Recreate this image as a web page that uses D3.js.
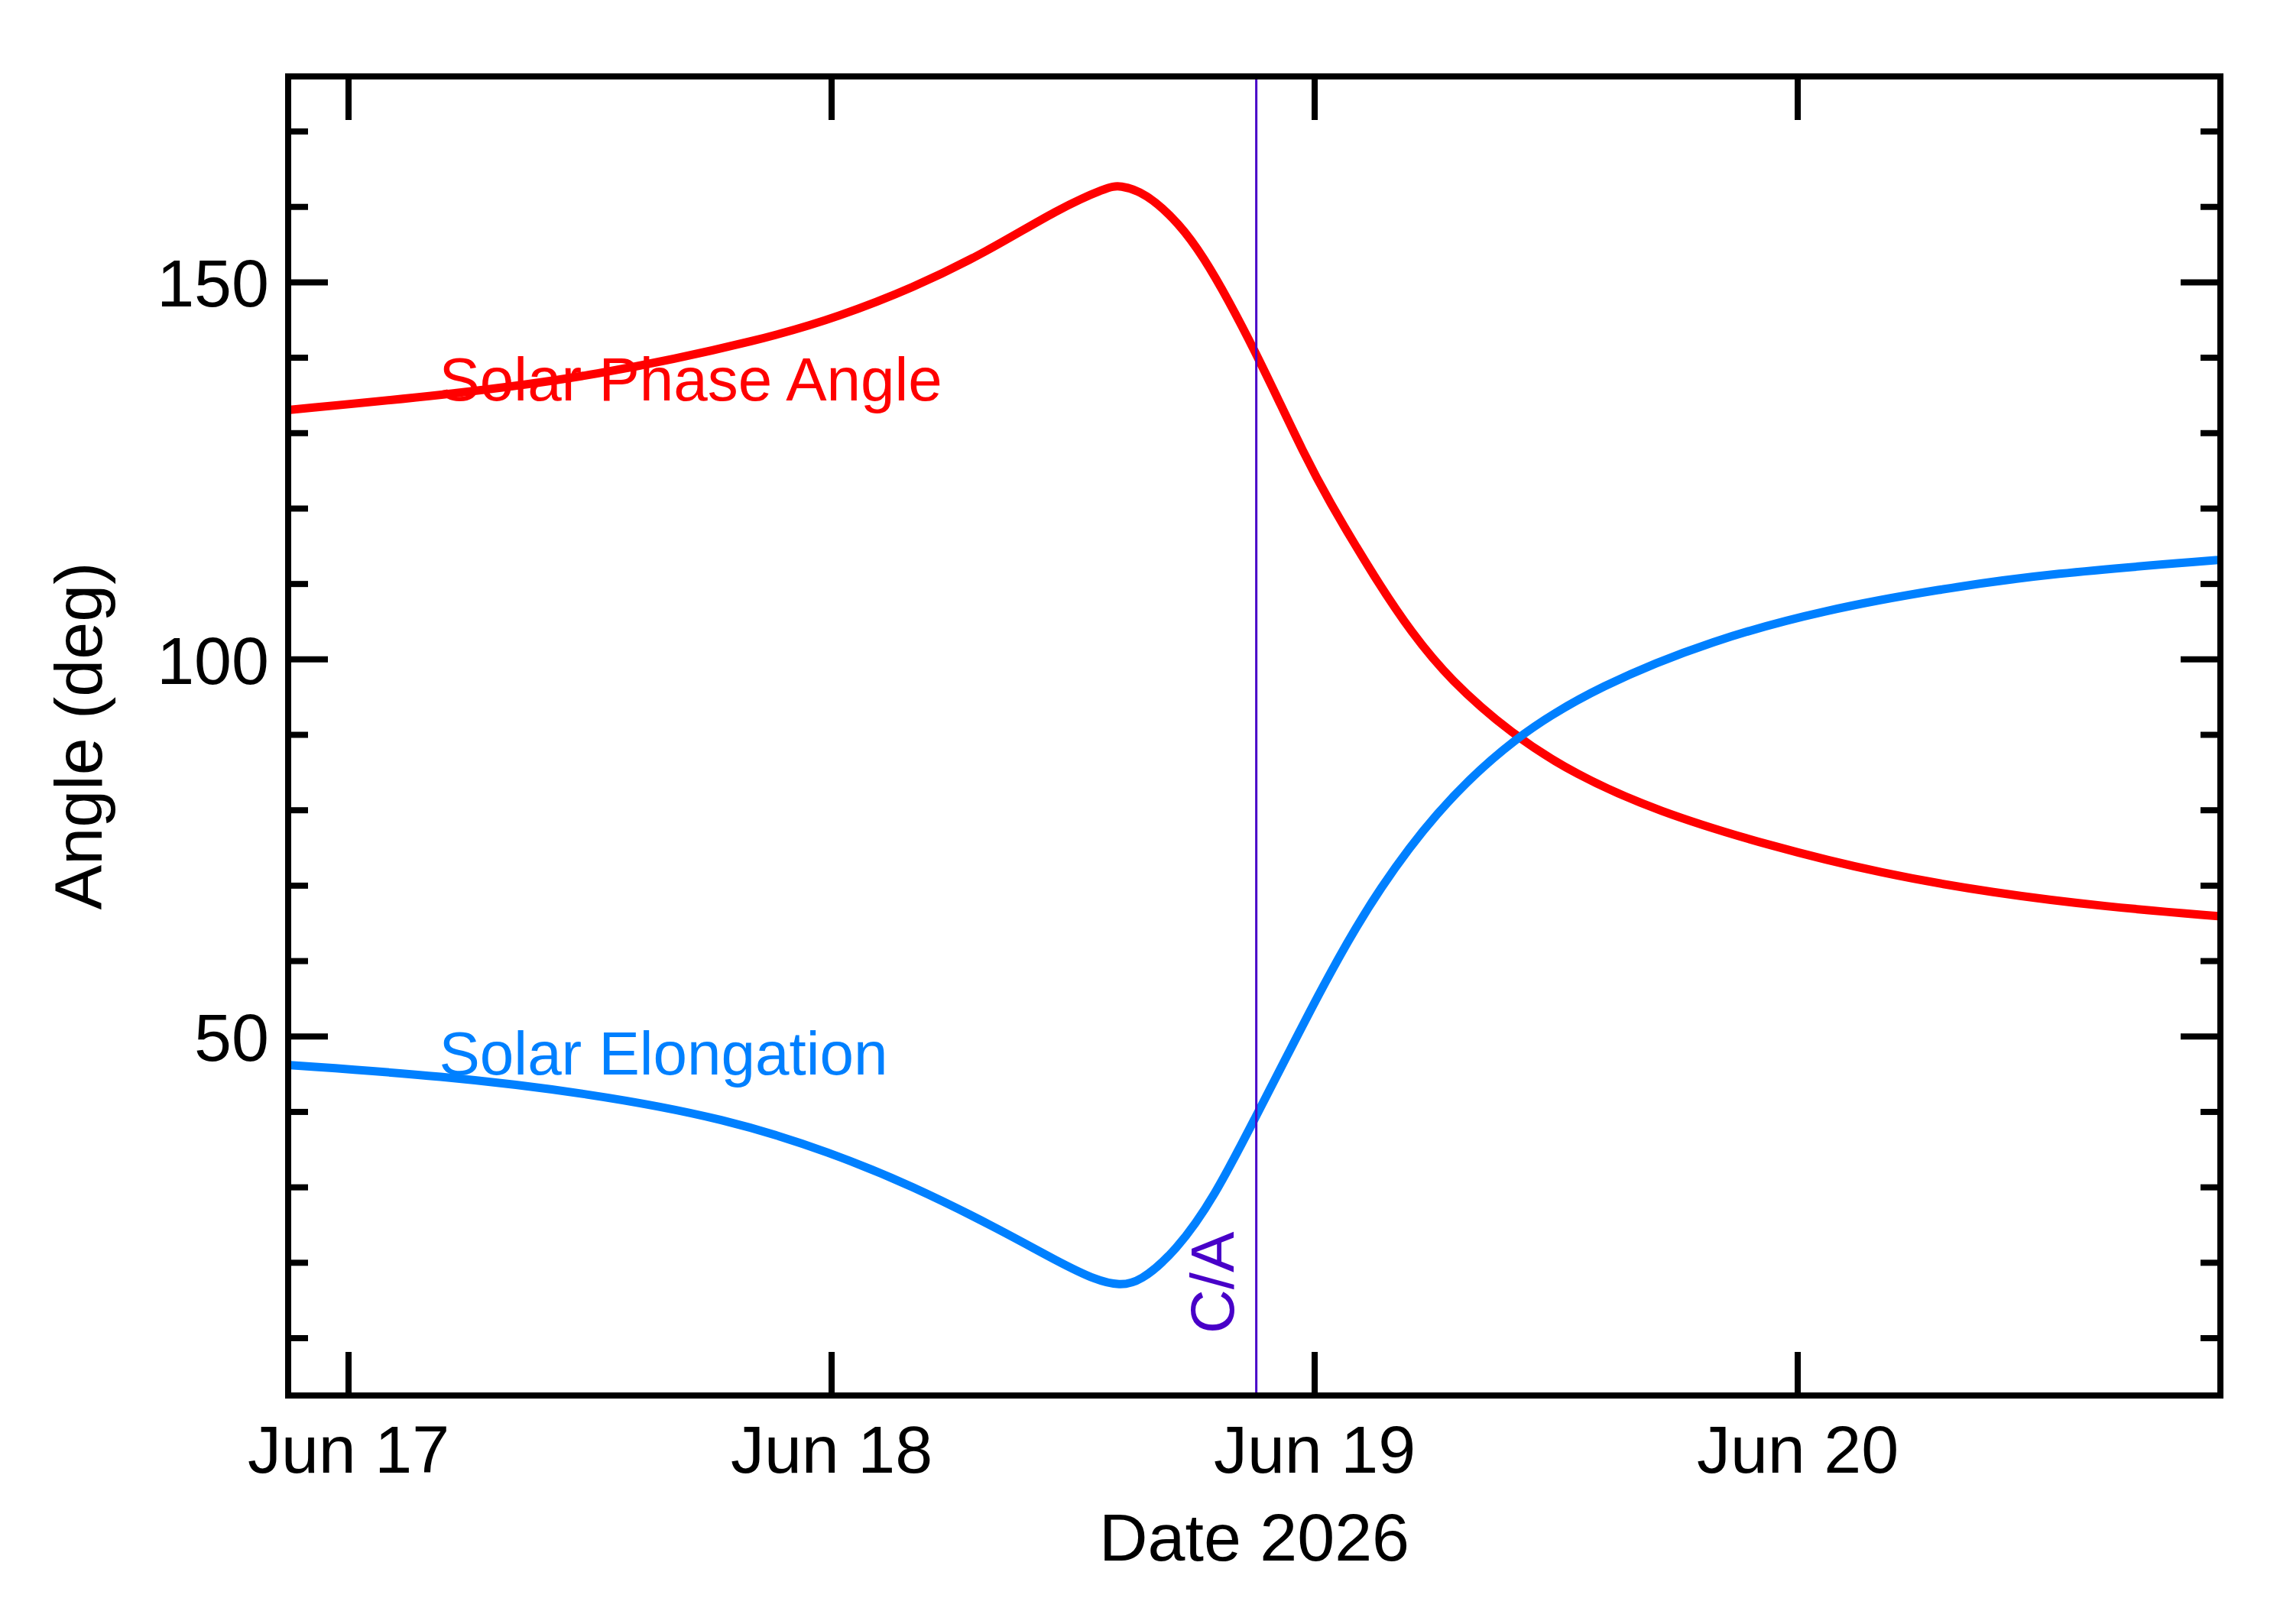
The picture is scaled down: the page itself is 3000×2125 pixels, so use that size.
<!DOCTYPE html>
<html>
<head>
<meta charset="utf-8">
<script src="https://cdn.jsdelivr.net/npm/d3@7"></script>
<style>
  body { margin: 0; background: #fff; }
  svg { display: block; }
  text { font-family: "Liberation Sans", Arial, Helvetica, sans-serif; }
</style>
</head>
<body>
<svg></svg>
<script>
// Chart size
const width = 3000;
const height = 2125;
const margin = { top: 100, right: 95, bottom: 299, left: 377 };

// Data: hours after 2026-06-17 00:00 UTC, angle in degrees
const phaseHours = [-2.9, 4.6, 12.2, 20.8, 24.4, 28.0, 31.7, 35.3, 37.7, 38.3, 39.6, 41.3, 42.5, 43.7, 45.1, 46.2, 47.4, 48.6, 51.1, 52.8, 54.7, 57.8, 60.9, 65.0, 70.6, 76.2, 81.7, 87.3, 93.0];
const phaseAngle = [133.1, 135.0, 137.5, 142.5, 145.5, 149.2, 154.0, 159.8, 162.6, 162.9, 161.9, 157.75, 153.25, 147.73, 140.52, 134.4, 127.68, 121.44, 110.32, 103.6, 97.33, 90.05, 84.78, 79.86, 75.27, 71.57, 69.04, 67.19, 65.94];

const elongHours = [-2.9, 4.6, 11.9, 18.8, 24.0, 28.0, 32.3, 35.2, 37.2, 38.3, 39.3, 41.1, 43.0, 45.1, 46.7, 48.2, 49.6, 51.1, 53.9, 57.8, 62.2, 67.8, 73.4, 79.0, 84.5, 93.0];
const elongAngle = [46.2, 44.8, 42.5, 39.1, 34.6, 30.2, 24.5, 20.2, 17.6, 17.0, 17.4, 21.5, 28.6, 39.5, 47.8, 55.6, 62.4, 69.1, 79.5, 89.6, 96.6, 102.6, 106.6, 109.3, 111.4, 113.2];

const closeApproachHours = 45.1;
const timeDomainHours = [-3, 93];
const angleDomain = [2.4, 177.3];
const majorAngles = [50, 100, 150];
const minorAngles = [10, 20, 30, 40, 60, 70, 80, 90, 110, 120, 130, 140, 160, 170];

const baseTime = Date.UTC(2026, 5, 17);
const toDate = h => new Date(baseTime + h * 3600e3);

const innerW = width - margin.left - margin.right;
const innerH = height - margin.top - margin.bottom;

const svg = d3.select("svg")
    .attr("width", width)
    .attr("height", height);

const g = svg.append("g")
    .attr("transform", `translate(${margin.left},${margin.top})`);

const x = d3.scaleUtc()
    .domain(timeDomainHours.map(toDate))
    .range([0, innerW]);

const y = d3.scaleLinear()
    .domain(angleDomain)
    .range([innerH, 0]);

// Curves
const line = d3.line()
    .x(d => x(toDate(d[0])))
    .y(d => y(d[1]))
    .curve(d3.curveBasis);

g.append("path")
    .datum(phaseHours.map((h, i) => [h, phaseAngle[i]]))
    .attr("d", line)
    .style("fill", "none")
    .style("stroke", "#ff0000")
    .style("stroke-width", 11);

g.append("path")
    .datum(elongHours.map((h, i) => [h, elongAngle[i]]))
    .attr("d", line)
    .style("fill", "none")
    .style("stroke", "#0080ff")
    .style("stroke-width", 11);

// Close approach marker
const caX = x(toDate(closeApproachHours));
g.append("line")
    .attr("x1", caX).attr("x2", caX)
    .attr("y1", 0).attr("y2", innerH)
    .style("stroke", "#4800c8")
    .style("stroke-width", 3);

g.append("text")
    .attr("transform", `translate(${caX - 30},${innerH - 81}) rotate(-90)`)
    .style("font-size", "80px")
    .style("fill", "#4800c8")
    .text("C/A");

// Series labels
g.append("text")
    .attr("x", x(toDate(4.5)))
    .attr("y", y(134.3))
    .style("font-size", "80px")
    .style("fill", "#ff0000")
    .text("Solar Phase Angle");

g.append("text")
    .attr("x", x(toDate(4.5)))
    .attr("y", y(45.0))
    .style("font-size", "80px")
    .style("fill", "#0080ff")
    .text("Solar Elongation");

// Ticks on all four sides (inward)
const dayTicks = x.ticks(d3.utcDay.every(1));
const tickStyle = sel => sel.style("stroke", "#000").style("stroke-width", 8);

g.selectAll(".xtick-b")
    .data(dayTicks)
    .enter().append("line")
    .attr("x1", d => x(d)).attr("x2", d => x(d))
    .attr("y1", innerH).attr("y2", innerH - 57)
    .call(tickStyle);

g.selectAll(".xtick-t")
    .data(dayTicks)
    .enter().append("line")
    .attr("x1", d => x(d)).attr("x2", d => x(d))
    .attr("y1", 0).attr("y2", 57)
    .call(tickStyle);

const yTicks = majorAngles.map(v => ({ v, len: 52 }))
    .concat(minorAngles.map(v => ({ v, len: 26 })));

g.selectAll(".ytick-l")
    .data(yTicks)
    .enter().append("line")
    .attr("x1", 0).attr("x2", d => d.len)
    .attr("y1", d => y(d.v)).attr("y2", d => y(d.v))
    .call(tickStyle);

g.selectAll(".ytick-r")
    .data(yTicks)
    .enter().append("line")
    .attr("x1", innerW).attr("x2", d => innerW - d.len)
    .attr("y1", d => y(d.v)).attr("y2", d => y(d.v))
    .call(tickStyle);

// Frame
g.append("rect")
    .attr("width", innerW)
    .attr("height", innerH)
    .style("fill", "none")
    .style("stroke", "#000")
    .style("stroke-width", 8);

// Tick labels
const fmt = d3.utcFormat("%b %d");
g.selectAll(".xlabel")
    .data(dayTicks)
    .enter().append("text")
    .attr("x", d => x(d))
    .attr("y", innerH + 101)
    .style("text-anchor", "middle")
    .style("font-size", "88px")
    .text(d => fmt(d));

g.selectAll(".ylabel")
    .data(majorAngles)
    .enter().append("text")
    .attr("x", -25)
    .attr("y", d => y(d) + 32)
    .style("text-anchor", "end")
    .style("font-size", "88px")
    .text(d => d);

// Axis titles
g.append("text")
    .attr("x", innerW / 2)
    .attr("y", innerH + 216)
    .style("text-anchor", "middle")
    .style("font-size", "88px")
    .text("Date 2026");

g.append("text")
    .attr("transform", `translate(-244,${innerH / 2}) rotate(-90)`)
    .style("text-anchor", "middle")
    .style("font-size", "88px")
    .text("Angle (deg)");
</script>
</body>
</html>
